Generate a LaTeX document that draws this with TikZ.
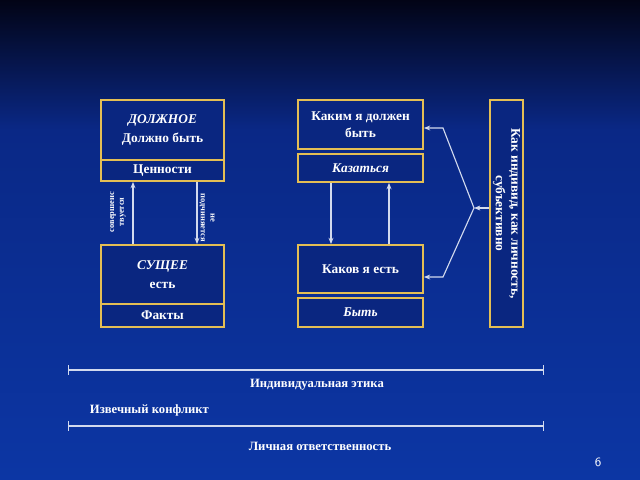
\documentclass[tikz,border=0pt]{standalone}
\usepackage{fontspec}
\setmainfont{Liberation Serif}
\usetikzlibrary{arrows.meta}
\definecolor{bgtop}{RGB}{2,4,22}
\definecolor{bgmid}{RGB}{10,40,134}
\definecolor{bgbot}{RGB}{12,54,164}
\definecolor{boxblue}{RGB}{10,38,128}
\definecolor{boxgold}{RGB}{228,190,84}
\definecolor{linkgray}{RGB}{210,218,238}
\tikzset{
  box/.style={draw=boxgold, fill=boxblue, line width=1.3pt, inner sep=0pt,
    text=white, align=center, font=\fontsize{9.5}{12}\selectfont\bfseries},
  lcol/.style={box, minimum width=3.075cm},
  mcol/.style={box, minimum width=3.125cm},
  link/.style={draw=linkgray, line width=0.8pt, -{Stealth[length=4.5pt,width=3.5pt]}},
  spanline/.style={draw=linkgray, line width=0.8pt, {Bar[width=7pt]}-{Bar[width=7pt]}},
  note/.style={text=white, font=\fontsize{9}{11}\selectfont\bfseries},
  tiny/.style={text=white, align=center, font=\fontsize{6}{7}\selectfont\bfseries}
}
\begin{document}
\begin{tikzpicture}[x=0.025cm, y=-0.025cm]
  \useasboundingbox (0,0) rectangle (640,480);
  \shade[top color=bgtop, bottom color=bgmid] (0,0) rectangle (640,130);
  \shade[top color=bgmid, bottom color=bgbot] (0,130) rectangle (640,480);

  \node[lcol, minimum height=1.5cm] (dolzh) at (162.5,130)
    {\textit{ДОЛЖНОЕ}\\[2pt]Должно быть};
  \node[lcol, minimum height=0.525cm] (cennost) at (162.5,170.5) {Ценности};
  \node[lcol, minimum height=1.475cm] (sushch) at (162.5,274.5)
    {\textit{СУЩЕЕ}\\[2pt]есть};
  \node[lcol, minimum height=0.575cm] (fakty) at (162.5,315.5) {Факты};

  \node[mcol, minimum height=1.225cm] (kakim) at (360.5,124.5)
    {Каким я должен\\быть};
  \node[mcol, minimum height=0.7cm] (kazat) at (360.5,168) {\textit{Казаться}};
  \node[mcol, minimum height=1.2cm] (kakov) at (360.5,269) {Каков я есть};
  \node[mcol, minimum height=0.725cm] (byt) at (360.5,312.5) {\textit{Быть}};

  \node[box, minimum width=0.825cm, minimum height=5.675cm] (lichn) at (506.5,213.5) {};
  \node[rotate=-90, text=white, align=center,
    font=\fontsize{9.5}{11}\selectfont\bfseries] (lichntxt) at (lichn.center)
    {Как индивид, как личность,\\субъективно};

  \draw[link] ([xshift=-0.7375cm]sushch.north) -- ([xshift=-0.7375cm]cennost.south);
  \draw[link] ([xshift=0.8625cm]cennost.south) -- ([xshift=0.8625cm]sushch.north);
  \node[tiny, rotate=90] (sovlbl) at (118,212) {совершенс\\твуется};
  \node[tiny, rotate=-90] (podlbl) at (207,218) {не\\подчиняется};

  \draw[link] ([xshift=-0.7375cm]kazat.south) -- ([xshift=-0.7375cm]kakov.north);
  \draw[link] ([xshift=0.7125cm]kakov.north) -- ([xshift=0.7125cm]kazat.south);

  \coordinate (fork) at (474,208);
  \coordinate (kup) at (443,128);
  \coordinate (kdn) at (443,277);
  \draw[link] (lichn.west |- fork) -- (fork);
  \draw[link] (fork) -- (kup) -- (kup -| kakim.east);
  \draw[link] (fork) -- (kdn) -- (kdn -| kakov.east);

  \coordinate (etl) at (68,370);
  \coordinate (etr) at (544,370);
  \coordinate (otl) at (68,426);
  \coordinate (otr) at (544,426);
  \draw[spanline] (etl) -- (etr);
  \draw[spanline] (otl) -- (otr);
  \node[note] (etika) at (317,385) {Индивидуальная этика};
  \node[note, anchor=west] (konfl) at (85,410) {Извечный конфликт};
  \node[note] (otvet) at (320,446) {Личная ответственность};
  \node[text=white, font=\sffamily\small] (pnum) at (598,462) {6};
\end{tikzpicture}
\end{document}
